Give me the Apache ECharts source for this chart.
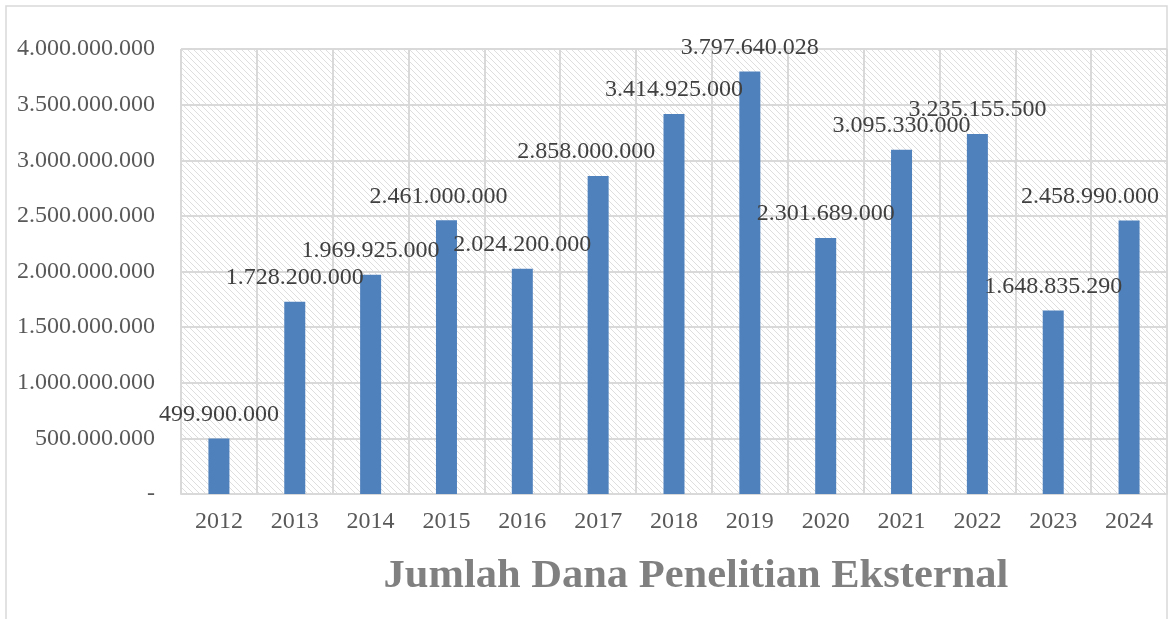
<!DOCTYPE html>
<html lang="en">
<head>
	<meta charset="UTF-8">
	<title>Jumlah Dana Penelitian Eksternal</title>
	<script type="text/javascript" src="https://cdn.jsdelivr.net/npm/echarts@6/dist/echarts.min.js"></script>
	<style type="text/css">
		body{ margin:0; background:#fff; }
	</style>
</head>
<body>
	<div id="main" style="width:1168px;height:619px;"></div>

	<script>
		// data
		var years = ['2012','2013','2014','2015','2016','2017','2018','2019','2020','2021','2022','2023','2024'];
		var dana = [499900000, 1728200000, 1969925000, 2461000000, 2024200000, 2858000000, 3414925000,
		            3797640028, 2301689000, 3095330000, 3235155500, 1648835290, 2458990000];
		var yTicks = [0, 500000000, 1000000000, 1500000000, 2000000000, 2500000000, 3000000000, 3500000000, 4000000000];

		// some labels were nudged sideways in the original
		var labelShift = {'2015': -8, '2017': -12, '2024': -39};

		function fmt(v){
			if(v === 0) return '-';
			return String(v).replace(/\B(?=(\d{3})+(?!\d))/g, '.');
		}

		// diagonal hatch for plot background
		var hatch = document.createElement('canvas');
		hatch.width = 6; hatch.height = 6;
		var c = hatch.getContext('2d');
		c.fillStyle = '#ffffff';
		c.fillRect(0,0,6,6);
		c.strokeStyle = '#dedede';
		c.lineWidth = 1;
		c.beginPath();
		c.moveTo(-1,-1); c.lineTo(7,7);
		c.moveTo(-1,5); c.lineTo(1,7);
		c.moveTo(5,-1); c.lineTo(7,1);
		c.stroke();

		var chart = echarts.init(document.getElementById('main'));
		var option = {
			animation: false,
			textStyle: { fontFamily: 'Liberation Serif' },
			graphic: [{
				type: 'rect',
				shape: { x: 6, y: 6, width: 1161, height: 700 },
				style: { fill: 'none', stroke: '#d9d9d9', lineWidth: 1.5 },
				silent: true, z: -1
			}, {
				// title is a bit wider than the font in the original
				type: 'text',
				x: 696, y: 576,
				scaleX: 1.037,
				style: {
					text: 'Jumlah Dana Penelitian Eksternal',
					fill: '#808080',
					font: 'bold 41px "Liberation Serif"',
					textAlign: 'center',
					textVerticalAlign: 'middle'
				}
			}],
			grid: {
				left: 181, right: 1, top: 49, bottom: 125,
				show: true,
				backgroundColor: { image: hatch, repeat: 'repeat' },
				borderWidth: 0
			},
			xAxis: {
				type: 'category',
				data: years,
				axisLine: { lineStyle: { color: '#d9d9d9', width: 2 } },
				axisTick: { show: false },
				axisLabel: { color: '#595959', fontSize: 24, margin: 16 },
				splitLine: { show: true, lineStyle: { color: '#d9d9d9', width: 2 } }
			},
			yAxis: {
				type: 'value',
				min: yTicks[0],
				max: yTicks[yTicks.length-1],
				interval: yTicks[1] - yTicks[0],
				axisLine: { show: false },
				axisTick: { show: false },
				axisLabel: { color: '#595959', fontSize: 24, margin: 26, formatter: fmt },
				splitLine: { lineStyle: { color: '#d9d9d9', width: 2 } }
			},
			series: [{
				type: 'bar',
				barWidth: 21,
				itemStyle: { color: '#4f81bd' },
				data: dana.map(function(v, i){
					var d = { value: v };
					if(labelShift[years[i]]) d.label = { offset: [labelShift[years[i]], 0] };
					return d;
				}),
				label: {
					show: true,
					position: 'top',
					distance: 12,
					color: '#404040',
					fontSize: 24,
					formatter: function(p){ return fmt(p.value); }
				}
			}]
		};
		chart.setOption(option);
	</script>
</body>
</html>
